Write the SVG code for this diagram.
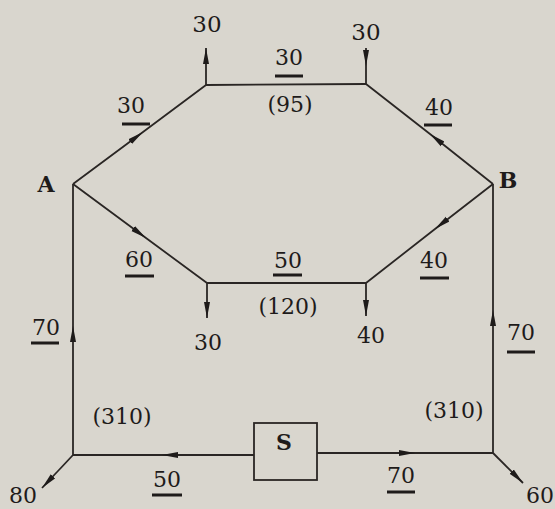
<svg xmlns="http://www.w3.org/2000/svg" width="555" height="509" viewBox="0 0 555 509">
<style>
.bg{fill:#d9d6ce}
.e{fill:none;stroke:#2a2624;stroke-width:1.8}
.t{font-family:"DejaVu Serif","Liberation Serif",serif;font-size:22px;fill:#1e1b1a;text-anchor:middle}
.big{font-size:23px}
.lbl{font-family:"DejaVu Serif","Liberation Serif",serif;font-size:22px;font-weight:bold;fill:#1e1b1a;text-anchor:middle}
.ul{stroke:#1e1b1a;stroke-width:3}
.box{fill:none;stroke:#2a2624;stroke-width:1.8}
</style>
<defs>
<marker id="ah" markerUnits="userSpaceOnUse" markerWidth="16" markerHeight="8" viewBox="0 0 16 8" refX="16" refY="4" orient="auto">
<path d="M0,1 L16,4 L0,7 Z" fill="#1e1b1a"/>
</marker>
</defs>
<rect class="bg" x="0" y="0" width="555" height="509"/>
<g id="connectors">
<path class="e" d="M73,184 L143,132 L206,85" marker-mid="url(#ah)"/>
<path class="e" d="M206,85 L366,84"/>
<path class="e" d="M493,184 L430,134 L366,84" marker-mid="url(#ah)"/>
<path class="e" d="M73,184 L146,238 L207,283" marker-mid="url(#ah)"/>
<path class="e" d="M493,184 L435,229 L366,283" marker-mid="url(#ah)"/>
<path class="e" d="M207,283 L366,283"/>
<path class="e" d="M73,455 L73,326 L73,184" marker-mid="url(#ah)"/>
<path class="e" d="M493,453 L493,310 L493,184" marker-mid="url(#ah)"/>
<path class="e" d="M254,455 L162,455 L73,455" marker-mid="url(#ah)"/>
<path class="e" d="M317,453 L415,453 L493,453" marker-mid="url(#ah)"/>
<path class="e" d="M206,85 L206,48" marker-end="url(#ah)"/>
<path class="e" d="M366,48 L366,66 L366,84" marker-mid="url(#ah)"/>
<path class="e" d="M207,283 L207,318" marker-end="url(#ah)"/>
<path class="e" d="M366,283 L366,316" marker-end="url(#ah)"/>
<path class="e" d="M73,455 L42,488" marker-end="url(#ah)"/>
<path class="e" d="M493,453 L523,483" marker-end="url(#ah)"/>
</g>
<g id="edge-labels">
<text class="t" x="131" y="113">30</text><line class="ul" x1="122" y1="124" x2="150" y2="124"/>
<text class="t" x="289" y="65">30</text><line class="ul" x1="275" y1="76" x2="303" y2="76"/>
<text class="t" x="290" y="112">(95)</text>
<text class="t" x="439" y="115">40</text><line class="ul" x1="424" y1="125" x2="452" y2="125"/>
<text class="t" x="139" y="267">60</text><line class="ul" x1="125" y1="276" x2="154" y2="276"/>
<text class="t" x="288" y="268">50</text><line class="ul" x1="273" y1="275" x2="302" y2="275"/>
<text class="t" x="288" y="314">(120)</text>
<text class="t" x="434" y="268">40</text><line class="ul" x1="420" y1="278" x2="449" y2="278"/>
<text class="t" x="46" y="335">70</text><line class="ul" x1="31" y1="343" x2="59" y2="343"/>
<text class="t" x="521" y="340">70</text><line class="ul" x1="507" y1="352" x2="535" y2="352"/>
<text class="t" x="122" y="424">(310)</text>
<text class="t" x="454" y="418">(310)</text>
<text class="t" x="167" y="487">50</text><line class="ul" x1="152" y1="495" x2="182" y2="495"/>
<text class="t" x="401" y="483">70</text><line class="ul" x1="387" y1="492" x2="415" y2="492"/>
</g>
<g id="node-A"><text class="lbl" x="46" y="192">A</text></g>
<g id="node-B"><text class="lbl" x="508" y="188">B</text></g>
<g id="node-top-left"><text class="t big" x="207" y="32">30</text></g>
<g id="node-top-right"><text class="t big" x="366" y="40">30</text></g>
<g id="node-bottom-left"><text class="t" x="208" y="350">30</text></g>
<g id="node-bottom-right"><text class="t" x="371" y="343">40</text></g>
<g id="node-corner-left"><text class="t" x="23" y="503">80</text></g>
<g id="node-corner-right"><text class="t" x="540" y="503">60</text></g>
<g id="node-S"><rect class="box" x="254" y="423" width="63" height="57"/><text class="lbl" x="284" y="450">S</text></g>
</svg>
